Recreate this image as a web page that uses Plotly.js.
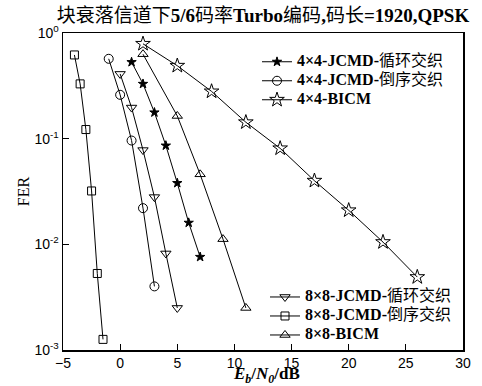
<!DOCTYPE html>
<html>
<head>
<meta charset="utf-8">
<script src="https://cdn.plot.ly/plotly-3.0.1.min.js"></script>
<style>html,body{margin:0;padding:0;background:#fff;}#chart{width:482px;height:386px;}</style>
</head>
<body>
<div id="chart"></div>
<script>
// Data
const x44Cyc = [1, 2, 3, 4, 5, 6, 7];
const y44Cyc = [0.53, 0.33, 0.177, 0.086, 0.038, 0.016, 0.0076];
const x44Rev = [-1, 0, 1, 2, 3];
const y44Rev = [0.57, 0.26, 0.096, 0.022, 0.004];
const x44Bicm = [2, 5, 8, 11, 14, 17, 20, 23, 26];
const y44Bicm = [0.79, 0.49, 0.28, 0.143, 0.081, 0.040, 0.021, 0.0105, 0.0049];
const x88Cyc = [0, 1, 2, 3, 4, 5];
const y88Cyc = [0.41, 0.197, 0.078, 0.028, 0.0082, 0.0025];
const x88Rev = [-4, -3.5, -3, -2.5, -2, -1.5];
const y88Rev = [0.62, 0.33, 0.122, 0.032, 0.0053, 0.00126];
const x88Bicm = [2, 5, 7, 9, 11];
const y88Bicm = [0.63, 0.164, 0.046, 0.0112, 0.0025];

const namePrefix = ['4×4-JCMD-', '4×4-JCMD-', '4×4-BICM', '8×8-JCMD-', '8×8-JCMD-', '8×8-BICM'];
const nameSuffix = ['循环交织', '倒序交织', '', '循环交织', '倒序交织', ''];
const yTickVals = [1, 0.1, 0.01, 0.001];
const yTickText = ['10<sup>0</sup>', '10<sup>-1</sup>', '10<sup>-2</sup>', '10<sup>-3</sup>'];
const xTickVals = [-5, 0, 5, 10, 15, 20, 25, 30];
const xTitle = '<b><i>E</i><sub><i>b</i></sub>/<i>N</i><sub><i>0</i></sub>/dB</b>';

const serif = 'Liberation Serif, Times New Roman, Noto Sans CJK SC, serif';
const sans = 'Liberation Sans, Arial, sans-serif';

function legName(i) {
  return '<span style="font-size:16px"><b>' + namePrefix[i] + '</b>' + nameSuffix[i] + '</span>';
}

function tr(x, y, i, symbol, size, legend) {
  return {
    x: x, y: y, name: legName(i), type: 'scatter', mode: 'lines+markers',
    line: {color: '#000', width: 1},
    marker: {symbol: symbol, size: size, color: '#000', line: {color: '#000', width: 1}},
    legend: legend
  };
}

const data = [
  tr(x44Cyc, y44Cyc, 0, 'star', 7, 'legend'),
  tr(x44Rev, y44Rev, 1, 'circle-open', 9, 'legend'),
  tr(x44Bicm, y44Bicm, 2, 'star-open', 11, 'legend'),
  tr(x88Cyc, y88Cyc, 3, 'triangle-down-open', 9, 'legend2'),
  tr(x88Rev, y88Rev, 4, 'square-open', 8, 'legend2'),
  tr(x88Bicm, y88Bicm, 5, 'triangle-up-open', 9, 'legend2')
];

const legendFont = {family: serif, size: 11.5, color: '#000'};

const layout = {
  width: 482, height: 386,
  margin: {l: 63, r: 19, t: 33, b: 36},
  paper_bgcolor: '#fff', plot_bgcolor: '#fff',
  showlegend: true,
  title: {
    text: '块衰落信道下<b>5/6</b>码率<b>Turbo</b>编码<b>,</b>码长<b>=1920,QPSK</b>',
    font: {family: serif, size: 19, color: '#000'},
    x: 0.5, xref: 'paper', xanchor: 'center',
    y: 0.961, yref: 'container', yanchor: 'middle'
  },
  xaxis: {
    range: [-5, 30], tickmode: 'array', tickvals: xTickVals,
    ticks: 'inside', ticklen: 6, tickcolor: '#000', tickwidth: 1,
    showgrid: false, zeroline: false,
    showline: true, mirror: true, linecolor: '#000', linewidth: 1.5,
    tickfont: {family: sans, size: 14, color: '#000'},
    automargin: false
  },
  yaxis: {
    type: 'log', range: [-3, 0], tickmode: 'array', tickvals: yTickVals, ticktext: yTickText,
    ticks: 'inside', ticklen: 6, tickcolor: '#000', tickwidth: 1,
    showgrid: false, zeroline: false,
    showline: true, mirror: true, linecolor: '#000', linewidth: 1.5,
    tickfont: {family: sans, size: 14, color: '#000'},
    title: {text: 'FER', font: {family: serif, size: 16, color: '#000'}, standoff: 1},
    automargin: false
  },
  annotations: [{
    text: xTitle, xref: 'paper', yref: 'paper', x: 0.5075, y: -0.078,
    xanchor: 'center', yanchor: 'middle', showarrow: false,
    font: {family: serif, size: 17, color: '#000'}
  }],
  legend: {
    x: 0.485, y: 0.955, xanchor: 'left', yanchor: 'top',
    bgcolor: 'rgba(0,0,0,0)', borderwidth: 0, font: legendFont,
    tracegroupgap: 0, itemwidth: 30
  },
  legend2: {
    x: 0.505, y: 0.213, xanchor: 'left', yanchor: 'top',
    bgcolor: 'rgba(0,0,0,0)', borderwidth: 0, font: legendFont,
    tracegroupgap: 0, itemwidth: 30
  }
};

Plotly.newPlot('chart', data, layout, {displayModeBar: false, staticPlot: true});
</script>
</body>
</html>
